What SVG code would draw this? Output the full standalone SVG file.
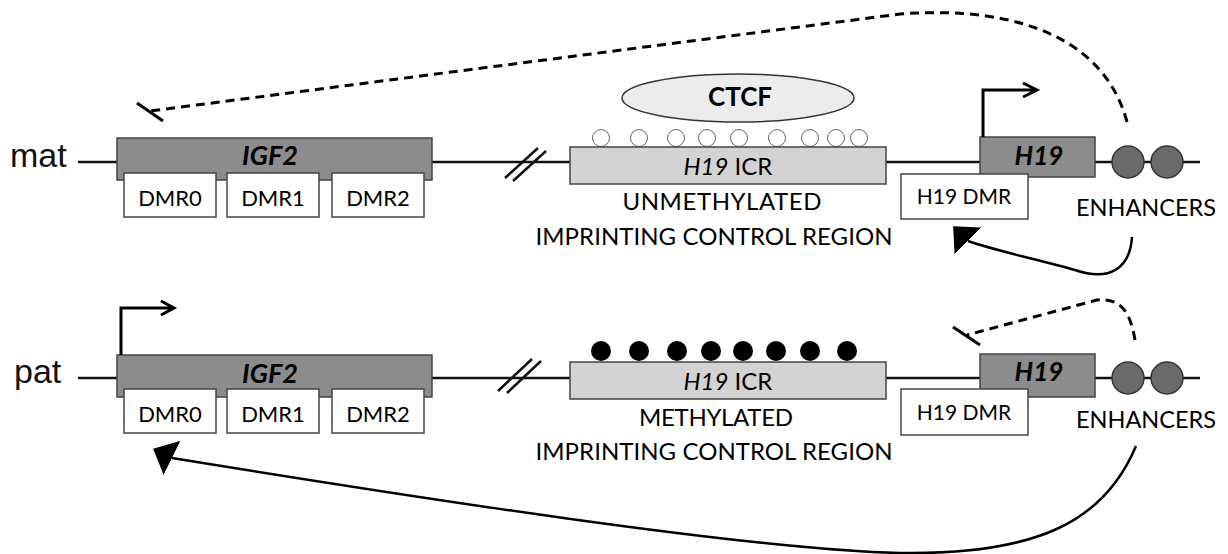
<svg xmlns="http://www.w3.org/2000/svg" width="1228" height="554" viewBox="0 0 1228 554">
<defs>
<style>
.t{font-family:Lato,"Liberation Sans",sans-serif;fill:#000}
.lbl{font-family:"Liberation Sans",Arial,sans-serif;font-size:34px;fill:#111}
.gene{fill:#8c8c8c;stroke:#444;stroke-width:1.5}
.dmr{fill:#fff;stroke:#444;stroke-width:1.5}
.icr{fill:#d3d3d3;stroke:#444;stroke-width:1.5}
.enh{fill:#6a6a6a;stroke:#333;stroke-width:1.5}
.dna{stroke:#111;stroke-width:2.5;fill:none}
.conn{stroke:#000;stroke-width:2.5;fill:none}
.dash{stroke:#000;stroke-width:3;fill:none;stroke-dasharray:9 6}
.prom{stroke:#000;stroke-width:3;fill:none}
.um{fill:#fff;stroke:#666;stroke-width:1}
.me{fill:#000}
</style>
<marker id="ahMat" markerUnits="userSpaceOnUse" viewBox="0 -19 21 38" refX="0" refY="0" markerWidth="21" markerHeight="38" orient="225"><path d="M0,-19 L21,0 L0,19 Z" fill="#000"/></marker>
<marker id="ahPat" markerUnits="userSpaceOnUse" viewBox="0 -19 21 38" refX="0" refY="0" markerWidth="21" markerHeight="38" orient="206"><path d="M0,-19 L21,0 L0,19 Z" fill="#000"/></marker>
</defs>

<g id="mat-label"><text class="lbl" x="10" y="167">mat</text></g>
<g id="pat-label"><text class="lbl" x="14" y="383">pat</text></g>

<g id="dna-lines">
<line class="dna" x1="78" y1="162" x2="1200" y2="162"/>
<line class="dna" x1="78" y1="378" x2="1200" y2="378"/>
<line class="dna" x1="505" y1="178" x2="538" y2="148"/>
<line class="dna" x1="513" y1="181" x2="546" y2="151"/>
<line class="dna" x1="498" y1="391" x2="532" y2="359"/>
<line class="dna" x1="507" y1="393" x2="541" y2="361"/>
</g>

<g id="mat-igf2">
<rect class="gene" x="117" y="138" width="315" height="42"/>
<text class="t" x="270" y="165" font-size="27" font-weight="bold" font-style="italic" text-anchor="middle">IGF2</text>
</g>
<g id="mat-dmr0"><rect class="dmr" x="124" y="173" width="92" height="44"/><text class="t" x="170" y="206" font-size="22" text-anchor="middle">DMR0</text></g>
<g id="mat-dmr1"><rect class="dmr" x="227" y="173" width="92" height="44"/><text class="t" x="273" y="206" font-size="22" text-anchor="middle">DMR1</text></g>
<g id="mat-dmr2"><rect class="dmr" x="332" y="173" width="92" height="44"/><text class="t" x="378" y="206" font-size="22" text-anchor="middle">DMR2</text></g>

<g id="mat-ctcf">
<ellipse cx="738" cy="98" rx="116" ry="24" fill="#ececec" stroke="#333" stroke-width="1.5"/>
<text class="t" x="740" y="106" font-size="26" font-weight="bold" text-anchor="middle">CTCF</text>
</g>
<g id="mat-cpg">
<circle class="um" cx="601" cy="138" r="8.5"/>
<circle class="um" cx="639" cy="138" r="8.5"/>
<circle class="um" cx="676" cy="138" r="8.5"/>
<circle class="um" cx="707" cy="138" r="8.5"/>
<circle class="um" cx="739" cy="138" r="8.5"/>
<circle class="um" cx="777" cy="138" r="8.5"/>
<circle class="um" cx="810" cy="138" r="8.5"/>
<circle class="um" cx="836" cy="138" r="8.5"/>
<circle class="um" cx="859" cy="138" r="8.5"/>
</g>
<g id="mat-icr">
<rect class="icr" x="570" y="147" width="316" height="37"/>
<text class="t" x="728" y="175" font-size="24" text-anchor="middle"><tspan font-style="italic">H19</tspan> ICR</text>
<text class="t" x="722" y="210" font-size="24" text-anchor="middle" textLength="199" lengthAdjust="spacing">UNMETHYLATED</text>
<text class="t" x="714" y="245" font-size="24" text-anchor="middle" textLength="357" lengthAdjust="spacing">IMPRINTING CONTROL REGION</text>
</g>
<g id="mat-h19">
<rect class="gene" x="980" y="137" width="115" height="40"/>
<text class="t" x="1039" y="165" font-size="26" font-weight="bold" font-style="italic" text-anchor="middle">H19</text>
</g>
<g id="mat-h19dmr"><rect class="dmr" x="901" y="174" width="127" height="45"/><text class="t" x="964" y="204" font-size="21" text-anchor="middle">H19 DMR</text></g>
<g id="mat-enhancers">
<circle class="enh" cx="1128" cy="162" r="16"/>
<circle class="enh" cx="1167" cy="162" r="16"/>
<text class="t" x="1146" y="216" font-size="23.5" text-anchor="middle">ENHANCERS</text>
</g>

<g id="pat-igf2">
<rect class="gene" x="117" y="355" width="315" height="42"/>
<text class="t" x="270" y="383" font-size="27" font-weight="bold" font-style="italic" text-anchor="middle">IGF2</text>
</g>
<g id="pat-dmr0"><rect class="dmr" x="124" y="389" width="92" height="44"/><text class="t" x="170" y="422" font-size="22" text-anchor="middle">DMR0</text></g>
<g id="pat-dmr1"><rect class="dmr" x="227" y="389" width="92" height="44"/><text class="t" x="273" y="422" font-size="22" text-anchor="middle">DMR1</text></g>
<g id="pat-dmr2"><rect class="dmr" x="332" y="389" width="92" height="44"/><text class="t" x="378" y="422" font-size="22" text-anchor="middle">DMR2</text></g>

<g id="pat-cpg">
<circle class="me" cx="601" cy="351" r="10"/>
<circle class="me" cx="639" cy="351" r="10"/>
<circle class="me" cx="677" cy="351" r="10"/>
<circle class="me" cx="711" cy="351" r="10"/>
<circle class="me" cx="743" cy="351" r="10"/>
<circle class="me" cx="776" cy="351" r="10"/>
<circle class="me" cx="810" cy="351" r="10"/>
<circle class="me" cx="847" cy="351" r="10"/>
</g>
<g id="pat-icr">
<rect class="icr" x="570" y="362" width="316" height="37"/>
<text class="t" x="728" y="390" font-size="24" text-anchor="middle"><tspan font-style="italic">H19</tspan> ICR</text>
<text class="t" x="716" y="426" font-size="24" text-anchor="middle" textLength="154" lengthAdjust="spacing">METHYLATED</text>
<text class="t" x="714" y="460" font-size="24" text-anchor="middle" textLength="357" lengthAdjust="spacing">IMPRINTING CONTROL REGION</text>
</g>
<g id="pat-h19">
<rect class="gene" x="980" y="354" width="115" height="43"/>
<text class="t" x="1039" y="381" font-size="26" font-weight="bold" font-style="italic" text-anchor="middle">H19</text>
</g>
<g id="pat-h19dmr"><rect class="dmr" x="901" y="389" width="127" height="46"/><text class="t" x="964" y="420" font-size="21" text-anchor="middle">H19 DMR</text></g>
<g id="pat-enhancers">
<circle class="enh" cx="1128" cy="378" r="16"/>
<circle class="enh" cx="1167" cy="378" r="16"/>
<text class="t" x="1146" y="428" font-size="23.5" text-anchor="middle">ENHANCERS</text>
</g>

<g id="connectors">
<path class="prom" d="M983,137 V90 H1036 M1023,83 L1037,90 L1023,97"/>
<path class="prom" d="M121,355 V308 H173 M161,301 L174,308 L161,315"/>
<path class="dash" d="M1127,122 C1105,40 1020,5 900,14 L150,111"/>
<line class="prom" x1="137" y1="103" x2="163" y2="121"/>
<path class="dash" d="M1135,340 C1130,310 1120,298 1097,300 L967,335"/>
<line class="prom" x1="953" y1="327" x2="980" y2="345"/>
<path class="conn" d="M1132,237 C1130,268 1110,282 1075,270 C1040,260 1000,252 968,241" marker-end="url(#ahMat)"/>
<path class="conn" d="M1136,446 C1105,520 1040,555 900,553 C750,550 400,495 172,458" marker-end="url(#ahPat)"/>
</g>
</svg>
